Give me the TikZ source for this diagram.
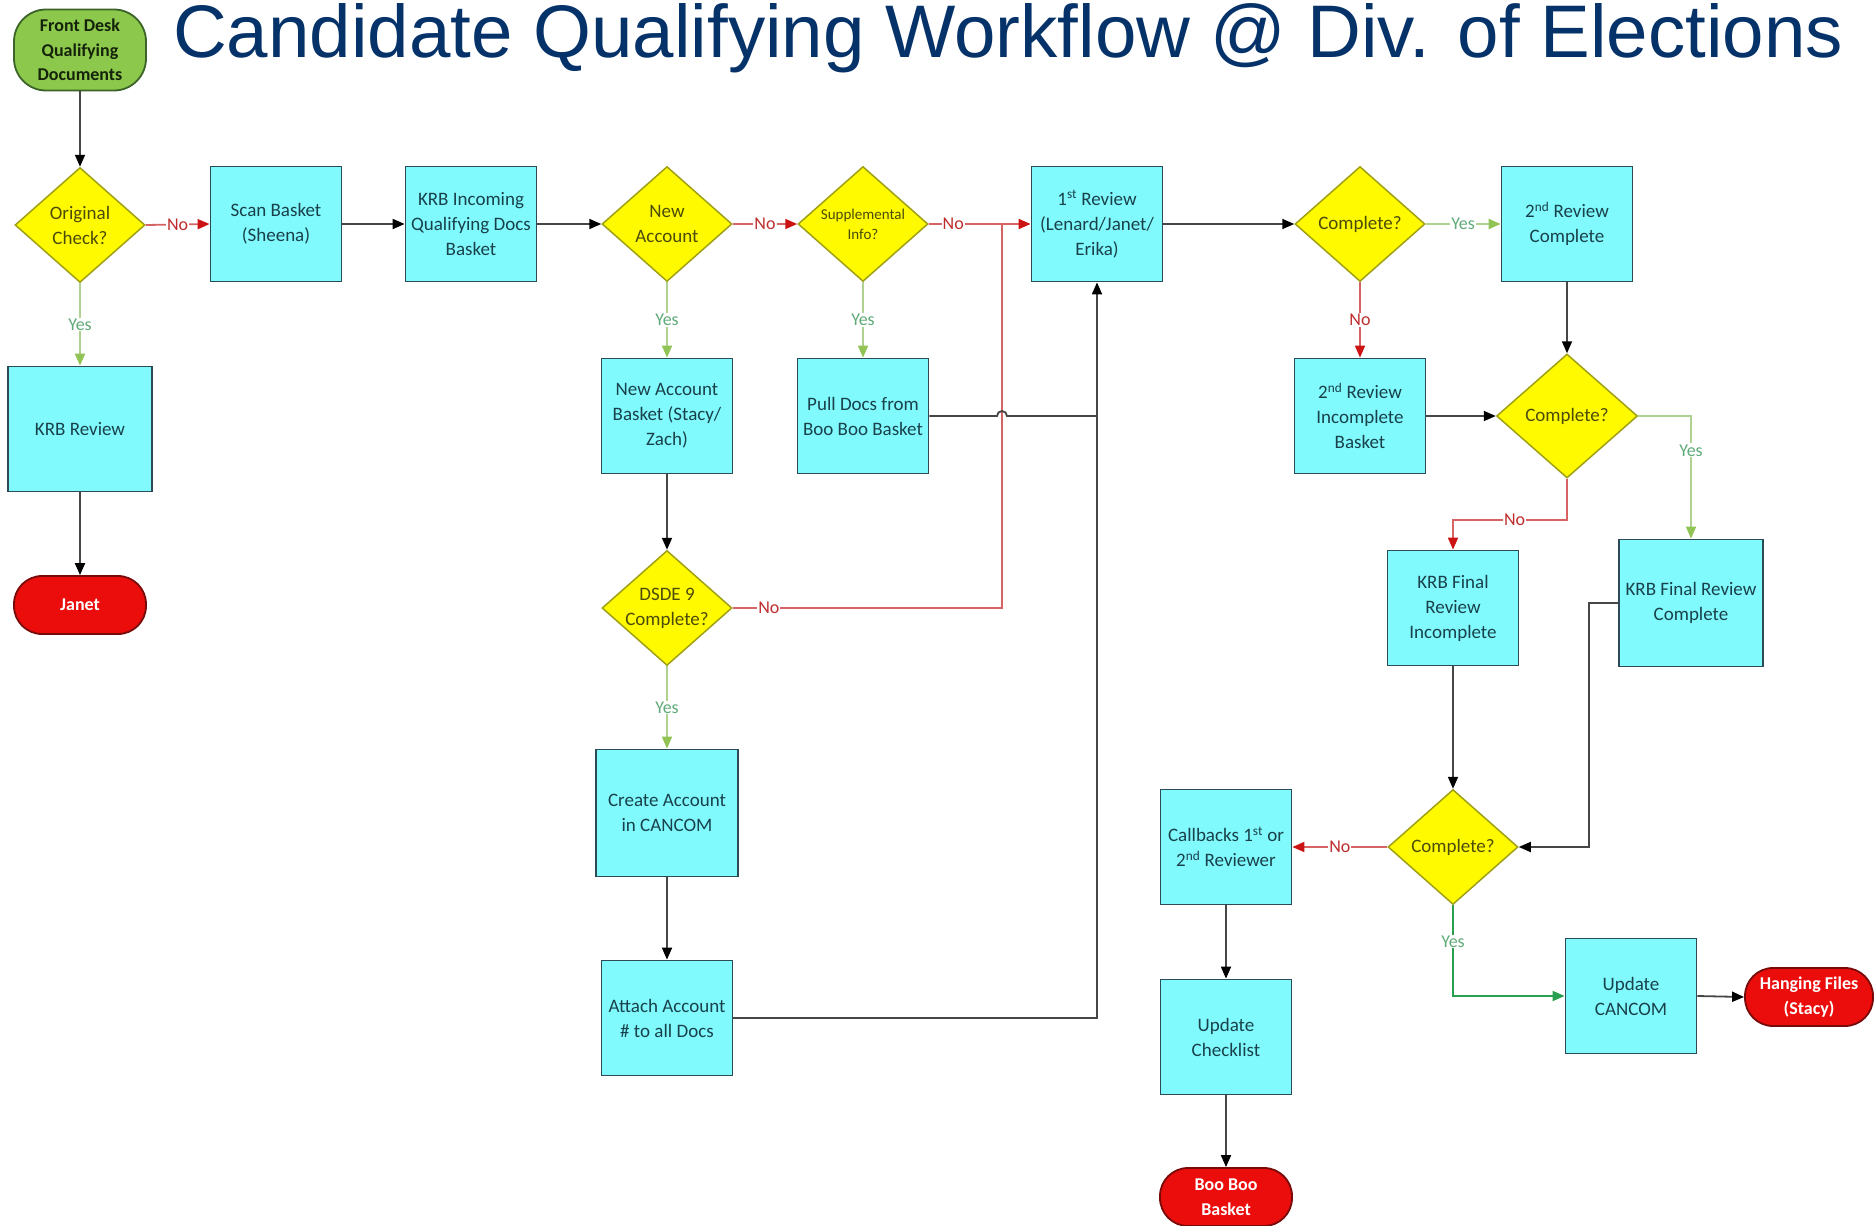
\documentclass[tikz,border=0pt]{standalone}
\usepackage{fontspec}
\setmainfont{Carlito}
\newfontfamily\ttlfont{Liberation Sans}
\usetikzlibrary{shapes.geometric,arrows.meta,calc}
\definecolor{boxf}{RGB}{128,250,252}
\definecolor{boxb}{RGB}{45,75,85}
\definecolor{boxt}{RGB}{25,65,75}
\definecolor{decf}{RGB}{255,250,0}
\definecolor{decb}{RGB}{160,160,20}
\definecolor{dect}{RGB}{75,75,10}
\definecolor{termr}{RGB}{235,12,12}
\definecolor{termrb}{RGB}{120,10,10}
\definecolor{termg}{RGB}{140,200,75}
\definecolor{termgb}{RGB}{60,100,40}
\definecolor{termgt}{RGB}{20,35,10}
\definecolor{connc}{RGB}{70,70,70}
\definecolor{noline}{RGB}{215,100,100}
\definecolor{notip}{RGB}{205,20,20}
\definecolor{notext}{RGB}{190,45,45}
\definecolor{yesline}{RGB}{175,210,145}
\definecolor{yestip}{RGB}{145,195,85}
\definecolor{yestext}{RGB}{95,170,120}
\definecolor{yesdark}{RGB}{40,160,80}
\definecolor{ttl}{RGB}{5,50,105}
\tikzset{
  proc/.style={rectangle, draw=boxb, fill=boxf, line width=1.8pt,
    minimum width=131pt, minimum height=115pt, inner sep=2pt, align=center,
    text=boxt, font=\fontsize{19}{25}\selectfont},
  dec/.style={diamond, draw=decb, fill=decf, line width=1.5pt,
    minimum width=130pt, minimum height=115pt, inner sep=0pt},
  dtx/.style={align=center, text=dect, font=\fontsize{19}{25}\selectfont, inner sep=0pt},
  dl/.style={label={[dtx]center:#1}},
  term/.style={rectangle, rounded corners=28pt, draw=termrb, fill=termr, line width=1.8pt,
    minimum width=132pt, minimum height=58pt, text=white, align=center, inner sep=1pt,
    font=\fontsize{18}{24.5}\selectfont\bfseries},
  flow/.style={draw=connc, line width=1.8pt, -{Triangle[length=12pt,width=10pt,color=black]}},
  plain/.style={draw=connc, line width=1.8pt},
  noarr/.style={draw=noline, line width=1.8pt, -{Triangle[length=12pt,width=10pt,color=notip]}},
  noplain/.style={draw=noline, line width=1.8pt},
  yesarr/.style={draw=yesline, line width=1.8pt, -{Triangle[length=12pt,width=10pt,color=yestip]}},
  yesdk/.style={draw=yesdark, line width=1.8pt, -{Triangle[length=12pt,width=10pt,color=yesdark]}},
  lbl/.style={fill=white, inner sep=1pt, font=\fontsize{18}{20}\selectfont},
  nolbl/.style={lbl, text=notext},
  yeslbl/.style={lbl, text=yestext}
}
\begin{document}
\begin{tikzpicture}[x=1pt,y=-1pt]
\useasboundingbox (0,0) rectangle (1875,1226);
% title
\node[anchor=base west, inner sep=0pt, text=ttl, font=\ttlfont\fontsize{74.5}{80}\selectfont] (title) at (173,57) {Candidate Qualifying Workflow @ Div. of Elections};
% nodes
\node[term, fill=termg, draw=termgb, text=termgt, minimum height=81pt, rounded corners=32pt] (fd) at (80,50) {Front Desk\\Qualifying\\Documents};
\node[dec, dl={Original\\Check?}] (oc) at (80,225) {};
\node[proc] (scan) at (276,224) {Scan Basket\\(Sheena)};
\node[proc] (krbin) at (471,224) {KRB Incoming\\Qualifying Docs\\Basket};
\node[dec, dl={New\\Account}] (na) at (667,224) {};
\node[dec, label={[dtx, font=\fontsize{15}{20}\selectfont]center:Supplemental\\Info?}] (sup) at (863,224) {};
\node[proc] (rev1) at (1097,224) {1\textsuperscript{st} Review\\(Lenard/Janet/\\Erika)};
\node[dec, dl={Complete?}] (c1) at (1360,224) {};
\node[proc] (r2c) at (1567,224) {2\textsuperscript{nd} Review\\Complete};
\node[proc, minimum width=144pt, minimum height=125pt] (krbr) at (80,429) {KRB Review};
\node[term] (janet) at (80,605) {Janet};
\node[proc] (nab) at (667,416) {New Account\\Basket (Stacy/\\Zach)};
\node[proc] (pd) at (863,416) {Pull Docs from\\Boo Boo Basket};
\node[proc] (r2i) at (1360,416) {2\textsuperscript{nd} Review\\Incomplete\\Basket};
\node[dec, minimum width=141pt, minimum height=124pt, dl={Complete?}] (c2) at (1567,416) {};
\node[proc] (kfi) at (1453,608) {KRB Final\\Review\\Incomplete};
\node[proc, minimum width=144pt, minimum height=127pt] (kfc) at (1691,603) {KRB Final Review\\Complete};
\node[dec, dl={DSDE 9\\Complete?}] (dsde) at (667,608) {};
\node[proc, minimum width=142pt, minimum height=127pt] (ca) at (667,813) {Create Account\\in CANCOM};
\node[proc] (att) at (667,1018) {Attach Account\\\# to all Docs};
\node[proc] (cb) at (1226,847) {Callbacks 1\textsuperscript{st} or\\2\textsuperscript{nd} Reviewer};
\node[dec, dl={Complete?}] (c3) at (1453,847) {};
\node[proc] (uchk) at (1226,1037) {Update\\Checklist};
\node[term] (boo) at (1226,1197) {Boo Boo\\Basket};
\node[proc] (ucan) at (1631,996) {Update\\CANCOM};
\node[term, minimum width=128pt] (hang) at (1809,997) {Hanging Files\\(Stacy)};
\coordinate (rj) at (1002,224);
% connectors
\draw[flow] (fd.south) -- (oc.north);
\draw[noarr] (oc.east) -- node[nolbl]{No} (scan.west);
\draw[yesarr] (oc.south) -- node[yeslbl]{Yes} (krbr.north);
\draw[flow] (krbr.south) -- (janet.north);
\draw[flow] (scan.east) -- (krbin.west);
\draw[flow] (krbin.east) -- (na.west);
\draw[noarr] (na.east) -- node[nolbl]{No} (sup.west);
\draw[noarr] (sup.east) -- node[nolbl,pos=0.24]{No} (rev1.west);
\draw[yesarr] (na.south) -- node[yeslbl]{Yes} (nab.north);
\draw[yesarr] (sup.south) -- node[yeslbl]{Yes} (pd.north);
\draw[flow] (nab.south) -- (dsde.north);
\draw[yesarr] (dsde.south) -- node[yeslbl]{Yes} (ca.north);
\draw[flow] (ca.south) -- (att.north);
\draw[noplain] (dsde.east) -| node[nolbl,pos=0.067]{No} (rj);
\draw[flow] (att.east) -| (rev1.south);
\draw[plain] (pd.east) -- ($(pd.east -| rj)+(-5,0)$) arc[start angle=180,end angle=0,radius=5pt] -- (pd.east -| rev1.south);
\draw[flow] (rev1.east) -- (c1.west);
\draw[yesarr] (c1.east) -- node[yeslbl]{Yes} (r2c.west);
\draw[noarr] (c1.south) -- node[nolbl]{No} (r2i.north);
\draw[flow] (r2c.south) -- (c2.north);
\draw[flow] (r2i.east) -- (c2.west);
\draw[yesarr] (c2.east) -| node[yeslbl,pos=0.64]{Yes} (kfc.north);
\draw[noarr] (c2.south) -- ++(0,41) -| node[nolbl,pos=0.23]{No} (kfi.north);
\draw[flow] (kfi.south) -- (c3.north);
\draw[flow] (kfc.west) -- ++(-29,0) |- (c3.east);
\draw[noarr] (c3.west) -- node[nolbl]{No} (cb.east);
\draw[yesdk] (c3.south) |- node[yeslbl,pos=0.2]{Yes} (ucan.west);
\draw[flow] (cb.south) -- (uchk.north);
\draw[flow] (uchk.south) -- (boo.north);
\draw[flow] (ucan.east) -- (hang.west);
\end{tikzpicture}
\end{document}
